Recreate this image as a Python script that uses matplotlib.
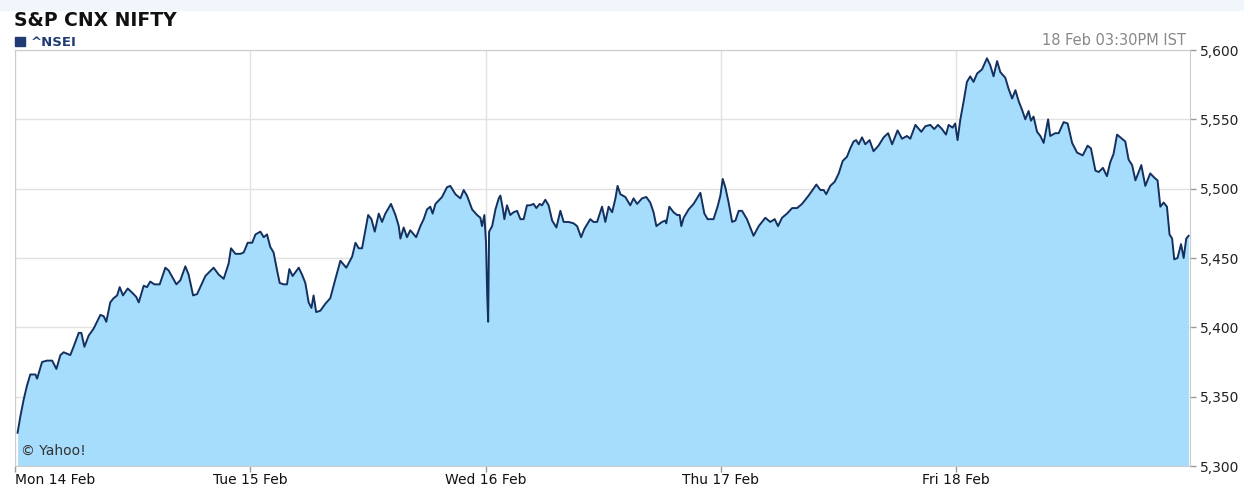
import matplotlib
matplotlib.use("Agg")
import matplotlib.pyplot as plt
from matplotlib.ticker import FuncFormatter

# Intraday NIFTY (14-18 Feb), x = trading days since Monday open
t = [0.011, 0.023, 0.037, 0.051, 0.065, 0.087, 0.094, 0.115, 0.136, 0.158,
     0.176, 0.193, 0.207, 0.235, 0.249, 0.271, 0.282, 0.295, 0.313, 0.334,
     0.363, 0.377, 0.388, 0.405, 0.419, 0.434, 0.445, 0.459, 0.479, 0.498,
     0.515, 0.526, 0.547, 0.561, 0.575, 0.592, 0.615, 0.639, 0.653, 0.686,
     0.703, 0.724, 0.738, 0.757, 0.774, 0.809, 0.844, 0.866, 0.887, 0.908,
     0.918, 0.937, 0.958, 0.972, 0.989,
     1.008, 1.022, 1.043, 1.057, 1.071, 1.085, 1.099, 1.114, 1.125, 1.142,
     1.156, 1.166, 1.180, 1.206, 1.220, 1.234, 1.248, 1.260, 1.269, 1.280,
     1.298, 1.319, 1.340, 1.362, 1.383, 1.408, 1.433, 1.447, 1.461, 1.475,
     1.486, 1.501, 1.515, 1.529, 1.546, 1.560, 1.574, 1.598, 1.617, 1.631,
     1.638, 1.652, 1.666, 1.680, 1.705, 1.723, 1.737, 1.751, 1.765, 1.775,
     1.787, 1.815, 1.836, 1.850, 1.872, 1.893, 1.907, 1.921, 1.943, 1.964,
     1.978, 1.985, 1.995,
     2.002, 2.007, 2.011, 2.015, 2.028, 2.042, 2.056, 2.063, 2.074, 2.080,
     2.091, 2.105, 2.119, 2.134, 2.148, 2.162, 2.176, 2.190, 2.204, 2.216,
     2.230, 2.240, 2.254, 2.268, 2.283, 2.301, 2.318, 2.332, 2.353, 2.374,
     2.389, 2.406, 2.420, 2.445, 2.459, 2.474, 2.495, 2.509, 2.523, 2.538,
     2.552, 2.561, 2.573, 2.594, 2.615, 2.629, 2.644, 2.665, 2.683, 2.700,
     2.714, 2.726, 2.750, 2.764, 2.768, 2.781, 2.799, 2.814, 2.825, 2.832,
     2.842, 2.863, 2.884, 2.913, 2.930, 2.944, 2.969, 2.986, 2.998,
     3.008, 3.019, 3.033, 3.048, 3.062, 3.076, 3.090, 3.111, 3.125, 3.139,
     3.161, 3.189, 3.210, 3.229, 3.243, 3.260, 3.281, 3.303, 3.324, 3.345,
     3.373, 3.394, 3.406, 3.423, 3.437, 3.448, 3.465, 3.484, 3.501, 3.518,
     3.536, 3.550, 3.564, 3.575, 3.586, 3.600, 3.614, 3.632, 3.649, 3.670,
     3.692, 3.711, 3.728, 3.751, 3.770, 3.791, 3.805, 3.827, 3.852, 3.869,
     3.890, 3.907, 3.923, 3.940, 3.957, 3.968, 3.985, 3.996,
     4.006, 4.018, 4.032, 4.046, 4.060, 4.074, 4.089, 4.110, 4.131, 4.145,
     4.159, 4.174, 4.188, 4.209, 4.223, 4.238, 4.252, 4.266, 4.280, 4.294,
     4.308, 4.318, 4.329, 4.344, 4.358, 4.372, 4.391, 4.400, 4.421, 4.436,
     4.457, 4.474, 4.493, 4.514, 4.538, 4.559, 4.573, 4.592, 4.606, 4.624,
     4.641, 4.655, 4.669, 4.684, 4.705, 4.719, 4.733, 4.748, 4.762, 4.776,
     4.787, 4.804, 4.825, 4.842, 4.856, 4.868, 4.882, 4.896, 4.907, 4.918,
     4.927, 4.941, 4.956, 4.967, 4.978, 4.988]

nifty = [5324, 5336, 5348, 5358, 5366, 5366, 5363, 5375, 5376, 5376,
         5370, 5380, 5382, 5380, 5386, 5396, 5396, 5386, 5394, 5399,
         5409, 5408, 5404, 5418, 5421, 5423, 5429, 5423, 5428, 5425,
         5422, 5418, 5430, 5429, 5433, 5431, 5431, 5443, 5441, 5431,
         5434, 5444, 5438, 5423, 5424, 5437, 5443, 5438, 5435, 5446,
         5457, 5453, 5453, 5454, 5461,
         5461, 5467, 5469, 5465, 5467, 5458, 5454, 5441, 5432, 5431,
         5431, 5442, 5437, 5443, 5438, 5432, 5418, 5414, 5423, 5411,
         5412, 5417, 5421, 5435, 5448, 5443, 5451, 5461, 5457, 5457,
         5467, 5481, 5478, 5469, 5482, 5476, 5482, 5489, 5481, 5473,
         5464, 5472, 5465, 5470, 5465, 5473, 5478, 5485, 5487, 5482,
         5489, 5494, 5501, 5502, 5496, 5493, 5499, 5495, 5485, 5481,
         5479, 5473, 5481,
         5461, 5423, 5404, 5469, 5473, 5485, 5493, 5495, 5485, 5478,
         5488, 5481, 5483, 5484, 5478, 5478, 5488, 5488, 5489, 5486,
         5489, 5488, 5492, 5488, 5477, 5472, 5484, 5476, 5476, 5475,
         5473, 5465, 5471, 5478, 5476, 5476, 5487, 5476, 5487, 5483,
         5493, 5502, 5496, 5494, 5488, 5493, 5489, 5493, 5494, 5490,
         5483, 5473, 5476, 5477, 5475, 5487, 5483, 5481, 5481, 5473,
         5479, 5485, 5489, 5497, 5482, 5478, 5478, 5487, 5495,
         5507, 5501, 5490, 5476, 5477, 5484, 5484, 5478, 5472, 5466,
         5473, 5479, 5476, 5478, 5473, 5479, 5482, 5486, 5486, 5489,
         5495, 5500, 5503, 5499, 5499, 5496, 5502, 5505, 5511, 5520,
         5523, 5529, 5534, 5535, 5532, 5537, 5532, 5535, 5527, 5531,
         5537, 5540, 5532, 5542, 5536, 5538, 5536, 5546, 5541, 5545,
         5546, 5543, 5546, 5543, 5539, 5546, 5544, 5547,
         5535, 5550, 5563, 5577, 5581, 5577, 5583, 5586, 5594, 5589,
         5581, 5592, 5584, 5580, 5572, 5565, 5571, 5563, 5557, 5550,
         5556, 5549, 5552, 5541, 5538, 5533, 5550, 5538, 5540, 5540,
         5548, 5547, 5533, 5526, 5524, 5531, 5529, 5513, 5512, 5515,
         5509, 5519, 5525, 5539, 5536, 5534, 5521, 5517, 5506, 5512,
         5517, 5502, 5511, 5508, 5506, 5487, 5490, 5487, 5467, 5464,
         5449, 5450, 5460, 5450, 5464, 5466]

day_ticks = [0, 1, 2, 3, 4]
day_labels = ["Mon 14 Feb", "Tue 15 Feb", "Wed 16 Feb", "Thu 17 Feb", "Fri 18 Feb"]
price_ticks = [5300, 5350, 5400, 5450, 5500, 5550, 5600]

plt.rcParams["font.family"] = ["DejaVu Sans"]

fig = plt.figure(figsize=(12.44, 4.88), dpi=100)
fig.patches.append(plt.Rectangle((0, 1 - 10 / 488), 1, 10 / 488, transform=fig.transFigure,
                                 color="#f0f6fc", zorder=0))

ax = fig.add_axes([15 / 1244, 1 - 466 / 488, 1175 / 1244, 416 / 488])
ax.fill_between(t, nifty, 5300, color="#a6dcfc", linewidth=0, zorder=2)
ax.plot(t, nifty, color="#13305e", linewidth=1.4, zorder=3)

ax.set_xlim(0, 4.994)
ax.set_ylim(5300, 5600)
ax.set_xticks(day_ticks)
ax.set_xticklabels(day_labels)
ax.get_xticklabels()[0].set_horizontalalignment("left")
ax.set_yticks(price_ticks)
ax.yaxis.set_major_formatter(FuncFormatter(lambda v, p: f"{int(v):,}"))
ax.yaxis.tick_right()
ax.grid(True, color="#e2e2e2", linewidth=1, zorder=1)
ax.set_axisbelow(True)
for s in ax.spines.values():
    s.set_color("#cccccc")
ax.tick_params(axis="x", length=4, width=1, color="#999999", labelsize=10,
               labelcolor="#111111", pad=1)
ax.tick_params(axis="y", length=4, width=1, color="#999999", labelsize=10,
               labelcolor="#222222", pad=3)

ax.text(0.005, 0.02, "© Yahoo!", transform=ax.transAxes, fontsize=10,
        color="#333333", va="bottom", ha="left", zorder=4)

fig.text(14 / 1244, 1 - 26 / 488, "S&P CNX NIFTY", fontsize=13.5, fontweight="bold",
         color="#111111", va="baseline")
fig.patches.append(plt.Rectangle((15 / 1244, 1 - 46 / 488), 10 / 1244, 9 / 488,
                                 transform=fig.transFigure, color="#1f3a74"))
fig.text(31 / 1244, 1 - 46 / 488, "^NSEI", fontsize=9.5, fontweight="bold",
         color="#1f3a74", va="baseline")
fig.text(1186 / 1244, 1 - 45 / 488, "18 Feb 03:30PM IST", fontsize=10.5,
         color="#888888", ha="right", va="baseline")

fig.savefig("out.png", dpi=100)
